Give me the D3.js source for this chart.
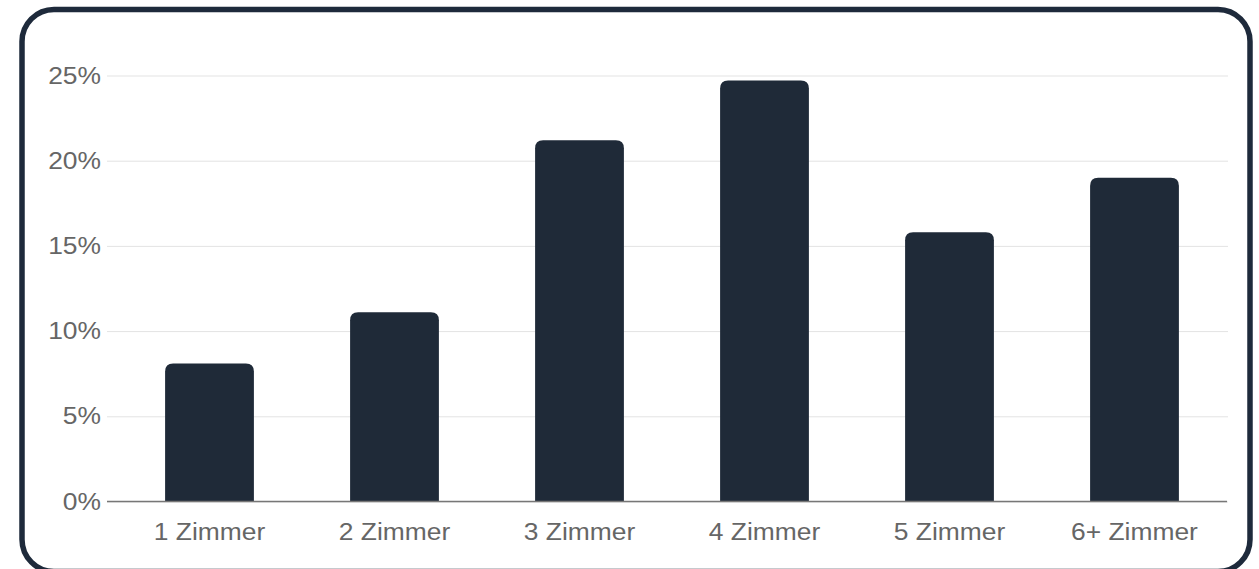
<!DOCTYPE html>
<html>
<head>
<meta charset="utf-8">
<script src="https://cdn.jsdelivr.net/npm/d3@7"></script>
<style>
  html, body { margin: 0; padding: 0; background: #fff; }
  svg { display: block; font-family: "Liberation Sans", Arial, sans-serif; }
</style>
</head>
<body>
<div class="canvas"></div>
<script>
const categories = ['1 Zimmer', '2 Zimmer', '3 Zimmer', '4 Zimmer', '5 Zimmer', '6+ Zimmer']
const shares = [8.1, 11.1, 21.2, 24.7, 15.8, 19.0]
const yTicks = [0, 5, 10, 15, 20, 25]

const width = 1259
const height = 569
const stretch = 1.1   // text in the reference is a bit wider than plain Liberation Sans

const svg = d3.select('.canvas')
    .append('svg')
    .attr('width', width)
    .attr('height', height)

// frame round the chart, bottom edge runs off the picture
svg.append('rect')
    .attr('x', 22)
    .attr('y', 9.5)
    .attr('width', 1228)
    .attr('height', 562)
    .attr('rx', 32)
    .attr('fill', '#fff')
    .attr('stroke', '#1e2a3b')
    .attr('stroke-width', 5.5)

const xScale = d3.scaleBand()
    .domain(categories)
    .range([117, 1227])
    .paddingInner(0.52)
    .paddingOuter(0.26)

const yScale = d3.scaleLinear()
    .domain([0, 25])
    .range([501.5, 75.5])

// gridlines + y labels
const yAxis = d3.axisLeft(yScale)
    .tickValues(yTicks)
    .tickSize(-(1228 - 107))
    .tickPadding(6)
    .tickFormat(d => d + '%')

const yAxisGroup = svg.append('g')
    .attr('transform', 'translate(107, 0)')
    .call(yAxis)

yAxisGroup.select('.domain').remove()
yAxisGroup.selectAll('.tick line')
    .attr('stroke', '#e3e3e3')
    .attr('stroke-width', 1)
yAxisGroup.selectAll('.tick text')
    .attr('fill', '#666')
    .attr('font-size', 24)
    .attr('font-family', '"Liberation Sans", Arial, sans-serif')
    .attr('x', -6 / stretch)
    .attr('transform', `scale(${stretch},1)`)

// bars with rounded top corners
const r = 8
const barPath = d => {
    const x0 = xScale(d.cat)
    const x1 = x0 + xScale.bandwidth()
    const y0 = yScale(0)
    const y1 = yScale(d.value)
    return `M${x0},${y0} L${x0},${y1 + r} Q${x0},${y1} ${x0 + r},${y1} L${x1 - r},${y1} Q${x1},${y1} ${x1},${y1 + r} L${x1},${y0} Z`
}

svg.append('g')
    .selectAll('path')
    .data(categories.map((c, i) => ({ cat: c, value: shares[i] })))
    .enter()
    .append('path')
        .attr('d', barPath)
        .attr('fill', '#1f2a38')

// baseline
svg.append('line')
    .attr('x1', 107)
    .attr('x2', 1227)
    .attr('y1', yScale(0))
    .attr('y2', yScale(0))
    .attr('stroke', '#777')
    .attr('stroke-width', 1.5)

const xAxisGroup = svg.append('g')
    .attr('transform', `translate(0, ${yScale(0)})`)
    .call(d3.axisBottom(xScale).tickSize(0).tickPadding(21))

xAxisGroup.select('.domain').remove()
xAxisGroup.selectAll('.tick text')
    .attr('fill', '#666')
    .attr('font-size', 24)
    .attr('font-family', '"Liberation Sans", Arial, sans-serif')
    .attr('transform', `scale(${stretch},1)`)
</script>
</body>
</html>
